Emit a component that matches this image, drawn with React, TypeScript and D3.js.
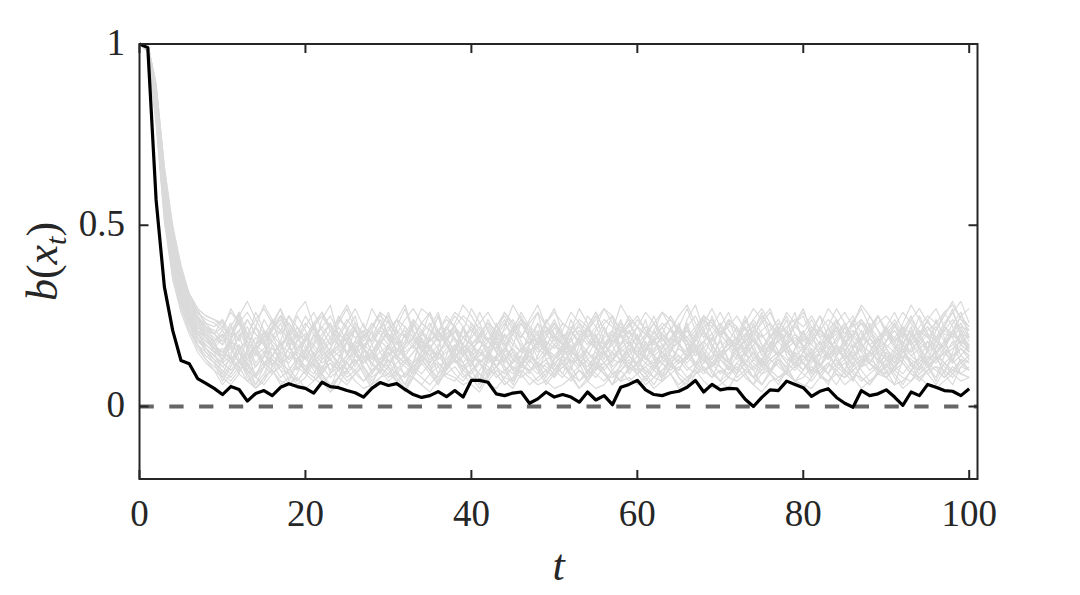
import * as d3 from "d3";

// t = 0 ... 100
const steps = d3.range(0, 101);

// highlighted trajectory b(x_t)
const mainSeries = [
  1.0, 0.99, 0.57, 0.33, 0.21, 0.127, 0.118, 0.077, 0.064, 0.05,
  0.033, 0.055, 0.047, 0.015, 0.036, 0.044, 0.03, 0.053, 0.063, 0.055,
  0.05, 0.037, 0.067, 0.055, 0.052, 0.044, 0.038, 0.026, 0.05, 0.066,
  0.058, 0.063, 0.047, 0.033, 0.025, 0.03, 0.041, 0.027, 0.044, 0.026,
  0.072, 0.072, 0.067, 0.035, 0.03, 0.037, 0.04, 0.009, 0.021, 0.04,
  0.026, 0.033, 0.026, 0.012, 0.04, 0.018, 0.03, 0.005, 0.053, 0.061,
  0.072, 0.046, 0.033, 0.03, 0.038, 0.042, 0.053, 0.072, 0.04, 0.061,
  0.046, 0.05, 0.049, 0.02, 0.0, 0.025, 0.046, 0.044, 0.07, 0.061,
  0.052, 0.028, 0.042, 0.049, 0.025, 0.009, -0.002, 0.044, 0.03, 0.035,
  0.046, 0.026, 0.003, 0.04, 0.03, 0.061, 0.053, 0.044, 0.042, 0.03,
  0.049,
];

// other trajectories, values x100
const g01 = [
  100, 99, 84, 57, 41, 31, 25, 21, 19, 17,
  14, 16, 12, 15, 19, 17, 13, 11, 14, 18,
  20, 16, 13, 15, 12, 10, 14, 17, 15, 19,
  22, 18, 14, 12, 15, 17, 13, 16, 19, 15,
  12, 14, 18, 21, 17, 13, 11, 15, 16, 14,
  17, 20, 16, 12, 14, 18, 15, 11, 13, 17,
  19, 16, 14, 12, 15, 18, 21, 17, 14, 13,
  16, 19, 15, 12, 10, 13, 17, 20, 16, 14,
  12, 15, 18, 14, 11, 13, 16, 19, 17, 15,
  13, 16, 20, 18, 14, 12, 15, 17, 21, 18,
  16,
];
const g02 = [
  100, 98, 80, 54, 38, 29, 23, 19, 16, 14,
  12, 10, 13, 9, 11, 14, 12, 8, 10, 13,
  15, 11, 9, 12, 10, 7, 9, 12, 14, 11,
  8, 10, 13, 11, 9, 12, 15, 12, 9, 7,
  10, 13, 11, 8, 10, 12, 14, 11, 9, 12,
  10, 8, 11, 14, 12, 9, 7, 10, 13, 11,
  9, 12, 10, 8, 11, 13, 10, 12, 15, 12,
  9, 11, 8, 10, 13, 11, 9, 7, 10, 12,
  14, 11, 9, 12, 10, 8, 11, 13, 12, 9,
  11, 14, 12, 9, 8, 10, 13, 11, 9, 12,
  10,
];
const g03 = [
  100, 100, 86, 60, 44, 34, 28, 24, 22, 21,
  19, 22, 18, 24, 20, 17, 21, 25, 19, 16,
  18, 22, 26, 21, 17, 19, 23, 20, 15, 18,
  21, 24, 19, 16, 20, 23, 18, 21, 25, 22,
  17, 19, 22, 18, 15, 20, 24, 21, 17, 19,
  23, 20, 16, 19, 22, 26, 21, 18, 20, 17,
  15, 19, 23, 20, 18, 22, 19, 16, 21, 24,
  20, 17, 19, 22, 18, 15, 19, 23, 21, 17,
  20, 24, 19, 16, 18, 22, 25, 20, 17, 19,
  22, 18, 21, 25, 20, 16, 19, 23, 26, 21,
  19,
];
const g04 = [
  100, 99, 82, 55, 40, 30, 24, 20, 17, 15,
  16, 13, 11, 14, 17, 12, 10, 13, 16, 14,
  11, 9, 13, 15, 12, 14, 17, 13, 10, 12,
  15, 13, 11, 9, 12, 16, 14, 11, 13, 17,
  14, 12, 15, 11, 9, 13, 16, 14, 12, 10,
  13, 16, 14, 11, 13, 15, 12, 9, 11, 14,
  17, 13, 12, 15, 11, 10, 14, 16, 13, 11,
  14, 12, 16, 18, 14, 11, 13, 15, 12, 10,
  13, 15, 11, 14, 17, 13, 10, 12, 15, 13,
  11, 14, 16, 12, 10, 13, 15, 12, 14, 16,
  13,
];
const g05 = [
  100, 99, 85, 59, 43, 33, 27, 23, 20, 18,
  21, 17, 15, 19, 22, 18, 14, 17, 20, 16,
  19, 23, 18, 15, 17, 21, 19, 16, 14, 18,
  20, 17, 22, 19, 15, 18, 21, 17, 14, 16,
  19, 22, 18, 16, 20, 17, 15, 19, 23, 20,
  17, 15, 18, 21, 19, 16, 14, 18, 20, 23,
  19, 16, 18, 15, 17, 21, 18, 14, 16, 19,
  22, 19, 16, 18, 21, 17, 15, 18, 20, 17,
  16, 19, 22, 18, 15, 17, 20, 23, 19, 16,
  18, 21, 17, 15, 19, 22, 18, 16, 20, 18,
  17,
];
const g06 = [
  100, 98, 79, 52, 37, 28, 21, 17, 14, 12,
  10, 8, 11, 7, 9, 12, 10, 6, 8, 11,
  9, 7, 10, 12, 8, 6, 9, 11, 8, 10,
  7, 9, 12, 10, 8, 6, 9, 11, 13, 10,
  8, 7, 10, 9, 6, 8, 11, 10, 7, 9,
  12, 9, 7, 10, 8, 11, 9, 6, 8, 10,
  12, 10, 8, 7, 9, 11, 8, 10, 13, 10,
  7, 9, 11, 8, 6, 9, 10, 12, 9, 7,
  8, 11, 9, 7, 10, 12, 9, 8, 6, 9,
  11, 10, 8, 7, 9, 12, 10, 8, 11, 9,
  8,
];
const g07 = [
  100, 99, 83, 56, 40, 31, 26, 20, 18, 16,
  13, 18, 24, 17, 12, 15, 11, 16, 21, 14,
  10, 13, 19, 15, 11, 14, 22, 16, 12, 9,
  14, 18, 13, 10, 15, 20, 25, 17, 12, 14,
  11, 16, 13, 19, 14, 10, 12, 17, 21, 15,
  12, 9, 14, 18, 13, 11, 16, 20, 14, 12,
  10, 15, 19, 13, 11, 17, 23, 16, 12, 14,
  18, 13, 10, 14, 17, 12, 15, 21, 14, 11,
  13, 16, 12, 9, 14, 19, 24, 16, 13, 11,
  15, 12, 17, 22, 15, 11, 14, 18, 13, 16,
  14,
];
const g08 = [
  100, 100, 85, 58, 42, 32, 26, 22, 19, 17,
  15, 18, 16, 13, 17, 20, 18, 15, 13, 16,
  19, 17, 14, 16, 20, 18, 15, 12, 15, 18,
  16, 14, 17, 19, 16, 13, 15, 18, 21, 17,
  14, 16, 19, 17, 14, 12, 16, 18, 15, 17,
  20, 17, 15, 13, 16, 19, 17, 14, 16, 18,
  15, 13, 16, 19, 21, 17, 14, 16, 18, 15,
  13, 16, 18, 15, 17, 20, 16, 14, 17, 19,
  17, 14, 16, 13, 15, 18, 20, 17, 15, 13,
  16, 19, 17, 14, 16, 18, 15, 17, 20, 17,
  15,
];
const g09 = [
  100, 100, 87, 61, 46, 36, 30, 26, 23, 22,
  24, 20, 23, 26, 22, 19, 21, 25, 23, 20,
  18, 22, 25, 21, 19, 23, 27, 22, 20, 17,
  21, 24, 22, 19, 23, 26, 21, 18, 22, 25,
  23, 20, 18, 22, 25, 21, 19, 23, 26, 22,
  19, 23, 21, 18, 21, 24, 27, 23, 20, 22,
  25, 21, 19, 22, 24, 20, 18, 21, 25, 23,
  20, 24, 22, 19, 21, 25, 22, 18, 20, 23,
  26, 22, 19, 21, 24, 20, 23, 27, 22, 19,
  21, 24, 20, 18, 22, 25, 23, 26, 28, 24,
  21,
];
const g10 = [
  100, 99, 81, 55, 39, 29, 23, 18, 16, 14,
  11, 13, 15, 12, 9, 11, 14, 12, 10, 13,
  16, 13, 11, 8, 10, 13, 15, 12, 14, 11,
  9, 12, 14, 11, 13, 10, 8, 11, 14, 12,
  15, 12, 10, 13, 11, 9, 12, 14, 11, 13,
  10, 12, 15, 13, 10, 8, 11, 13, 12, 14,
  11, 9, 12, 14, 11, 13, 16, 12, 10, 11,
  13, 11, 9, 12, 15, 12, 10, 13, 11, 14,
  12, 10, 13, 15, 11, 9, 12, 14, 12, 10,
  13, 11, 14, 12, 9, 11, 13, 15, 12, 14,
  12,
];
const g11 = [
  100, 99, 86, 59, 44, 34, 28, 24, 21, 19,
  17, 20, 23, 19, 16, 18, 21, 24, 20, 17,
  15, 18, 22, 19, 17, 20, 16, 19, 23, 20,
  17, 19, 21, 18, 16, 14, 17, 20, 22, 19,
  21, 18, 16, 19, 23, 20, 17, 15, 18, 21,
  19, 17, 20, 22, 18, 16, 19, 21, 17, 19,
  22, 20, 17, 19, 16, 18, 21, 19, 22, 24,
  20, 17, 19, 16, 18, 21, 23, 19, 17, 20,
  18, 21, 17, 19, 22, 18, 16, 19, 21, 18,
  20, 17, 15, 18, 21, 19, 22, 18, 20, 23,
  19,
];
const g12 = [
  100, 98, 81, 54, 39, 30, 24, 20, 17, 15,
  13, 15, 17, 14, 16, 12, 14, 17, 15, 13,
  11, 14, 16, 13, 15, 18, 14, 12, 15, 13,
  16, 14, 12, 15, 17, 14, 11, 13, 16, 14,
  17, 15, 13, 11, 14, 16, 13, 15, 18, 15,
  12, 14, 16, 13, 11, 14, 17, 15, 13, 16,
  14, 12, 15, 17, 14, 12, 13, 16, 14, 12,
  15, 17, 14, 12, 15, 13, 16, 18, 15, 13,
  14, 12, 15, 17, 14, 16, 13, 11, 14, 16,
  13, 15, 17, 14, 12, 15, 13, 16, 14, 17,
  15,
];
const g13 = [
  100, 98, 78, 51, 35, 26, 20, 15, 12, 10,
  8, 6, 9, 7, 5, 8, 10, 7, 6, 8,
  5, 7, 9, 6, 8, 10, 7, 5, 6, 8,
  9, 7, 5, 8, 6, 4, 7, 9, 8, 6,
  7, 9, 6, 5, 8, 7, 10, 8, 6, 7,
  5, 6, 8, 10, 7, 5, 6, 9, 7, 8,
  6, 8, 5, 7, 9, 6, 8, 10, 7, 5,
  6, 8, 7, 9, 6, 4, 7, 8, 10, 7,
  6, 5, 8, 7, 9, 6, 8, 5, 7, 9,
  8, 6, 7, 10, 8, 6, 5, 7, 9, 7,
  8,
];
const g14 = [
  100, 100, 87, 61, 45, 35, 29, 25, 22, 20,
  22, 19, 21, 24, 20, 18, 22, 25, 21, 19,
  23, 20, 17, 21, 24, 22, 19, 21, 18, 22,
  25, 21, 19, 23, 20, 18, 21, 24, 22, 19,
  17, 20, 23, 21, 18, 22, 25, 20, 18, 21,
  23, 19, 22, 20, 17, 21, 24, 22, 19, 21,
  18, 22, 20, 23, 21, 19, 17, 20, 24, 22,
  19, 23, 21, 18, 20, 23, 26, 21, 19, 22,
  20, 18, 21, 24, 22, 19, 21, 18, 22, 25,
  21, 19, 22, 20, 18, 21, 23, 20, 19, 22,
  21,
];
const g15 = [
  100, 99, 83, 57, 41, 32, 26, 21, 19, 16,
  13, 17, 21, 16, 11, 14, 19, 23, 17, 12,
  15, 20, 14, 10, 13, 18, 22, 16, 13, 17,
  12, 15, 20, 17, 13, 10, 14, 19, 22, 16,
  12, 16, 21, 17, 13, 16, 12, 9, 14, 19,
  23, 18, 14, 11, 16, 20, 15, 12, 17, 21,
  16, 13, 18, 22, 17, 12, 14, 19, 15, 11,
  14, 18, 22, 17, 13, 16, 20, 15, 12, 16,
  19, 14, 11, 15, 19, 23, 18, 13, 15, 19,
  16, 12, 17, 21, 16, 13, 18, 22, 27, 19,
  15,
];
const g16 = [
  100, 99, 82, 56, 40, 30, 24, 19, 17, 15,
  14, 12, 15, 13, 11, 14, 16, 13, 12, 15,
  13, 11, 14, 16, 14, 12, 10, 13, 15, 12,
  14, 16, 13, 11, 14, 12, 15, 17, 13, 11,
  13, 15, 12, 14, 16, 13, 11, 14, 12, 15,
  17, 14, 12, 13, 15, 12, 10, 13, 16, 14,
  12, 14, 11, 13, 16, 14, 12, 15, 13, 11,
  14, 16, 13, 15, 12, 10, 13, 15, 13, 12,
  15, 13, 11, 14, 16, 13, 15, 12, 14, 17,
  14, 12, 15, 13, 11, 14, 12, 15, 13, 16,
  14,
];
const g17 = [
  100, 100, 84, 58, 43, 33, 27, 22, 20, 18,
  20, 16, 19, 22, 17, 15, 18, 21, 19, 16,
  14, 17, 20, 23, 18, 15, 17, 20, 18, 21,
  19, 16, 14, 17, 21, 18, 20, 17, 15, 19,
  22, 18, 16, 19, 17, 20, 23, 19, 16, 18,
  16, 19, 21, 17, 20, 18, 15, 17, 21, 19,
  17, 20, 18, 16, 19, 22, 18, 15, 18, 20,
  23, 19, 17, 20, 18, 16, 19, 22, 20, 17,
  15, 18, 21, 18, 20, 23, 19, 17, 15, 18,
  21, 18, 20, 17, 19, 16, 18, 21, 19, 22,
  18,
];
const g18 = [
  100, 98, 80, 53, 37, 28, 22, 17, 15, 13,
  11, 9, 12, 10, 8, 11, 13, 10, 9, 12,
  10, 8, 11, 13, 10, 12, 9, 7, 10, 12,
  11, 9, 8, 11, 13, 10, 12, 9, 11, 8,
  10, 12, 9, 11, 13, 10, 8, 10, 12, 11,
  9, 11, 13, 10, 8, 11, 12, 9, 10, 12,
  10, 8, 11, 9, 12, 14, 11, 9, 10, 12,
  11, 9, 12, 10, 8, 10, 13, 11, 9, 11,
  12, 10, 9, 11, 13, 10, 8, 11, 12, 10,
  9, 11, 13, 10, 12, 9, 11, 10, 8, 11,
  10,
];
const g19 = [
  100, 99, 84, 58, 42, 32, 26, 22, 19, 17,
  15, 19, 25, 18, 14, 16, 20, 17, 13, 15,
  18, 22, 17, 14, 16, 19, 15, 13, 17, 21,
  26, 19, 15, 17, 14, 16, 19, 22, 18, 15,
  17, 14, 16, 20, 24, 18, 15, 17, 19, 16,
  14, 17, 21, 18, 15, 13, 16, 19, 23, 18,
  15, 17, 14, 16, 19, 17, 15, 18, 21, 17,
  14, 16, 19, 25, 19, 15, 17, 14, 16, 18,
  20, 17, 15, 18, 22, 17, 14, 16, 19, 25,
  20, 16, 18, 15, 17, 20, 18, 15, 17, 20,
  17,
];
const g20 = [
  100, 99, 81, 55, 39, 29, 23, 19, 16, 14,
  12, 14, 10, 13, 15, 11, 9, 12, 14, 13,
  10, 12, 15, 13, 11, 9, 12, 14, 12, 10,
  13, 11, 9, 12, 14, 16, 12, 10, 13, 11,
  9, 12, 14, 11, 13, 15, 12, 10, 11, 13,
  14, 12, 9, 11, 13, 10, 12, 15, 13, 11,
  9, 11, 13, 12, 10, 12, 14, 11, 9, 12,
  14, 12, 10, 13, 11, 9, 12, 14, 16, 12,
  10, 13, 11, 9, 12, 14, 11, 13, 10, 12,
  14, 11, 9, 12, 13, 11, 14, 12, 10, 13,
  12,
];
const g21 = [
  100, 100, 85, 60, 44, 34, 28, 24, 21, 20,
  18, 21, 24, 20, 17, 19, 22, 20, 23, 19,
  16, 19, 22, 25, 20, 18, 21, 17, 19, 22,
  20, 18, 16, 19, 23, 21, 18, 20, 22, 19,
  17, 20, 23, 19, 21, 24, 20, 17, 19, 22,
  20, 17, 19, 23, 21, 18, 16, 19, 22, 20,
  24, 21, 18, 20, 17, 19, 22, 25, 20, 18,
  21, 19, 17, 20, 22, 19, 21, 24, 20, 17,
  19, 22, 20, 18, 21, 17, 20, 23, 21, 18,
  20, 23, 19, 17, 20, 22, 19, 21, 24, 20,
  19,
];
const g22 = [
  100, 99, 83, 57, 41, 31, 25, 21, 18, 16,
  15, 13, 16, 18, 15, 12, 14, 17, 19, 15,
  13, 15, 12, 14, 17, 15, 18, 16, 13, 15,
  17, 14, 12, 15, 18, 16, 13, 15, 17, 14,
  16, 18, 15, 13, 16, 14, 12, 15, 18, 16,
  13, 15, 17, 14, 16, 19, 15, 13, 15, 17,
  14, 16, 18, 15, 13, 16, 14, 17, 15, 12,
  15, 17, 14, 16, 19, 16, 13, 15, 17, 14,
  16, 13, 15, 18, 16, 14, 17, 15, 12, 15,
  17, 15, 13, 16, 18, 15, 17, 14, 16, 18,
  16,
];
const g23 = [
  100, 100, 88, 63, 47, 37, 31, 27, 25, 24,
  22, 26, 23, 20, 24, 27, 23, 21, 25, 22,
  19, 23, 26, 22, 20, 24, 21, 18, 22, 25,
  23, 20, 24, 27, 23, 21, 19, 22, 26, 24,
  21, 23, 26, 22, 19, 21, 24, 22, 20, 23,
  26, 23, 21, 24, 22, 19, 23, 25, 21, 24,
  22, 20, 23, 26, 24, 21, 19, 22, 25, 23,
  20, 22, 25, 21, 24, 27, 23, 20, 22, 24,
  22, 25, 21, 19, 23, 26, 22, 24, 21, 23,
  25, 22, 20, 24, 27, 23, 21, 25, 29, 24,
  22,
];
const g24 = [
  100, 98, 79, 52, 36, 27, 21, 16, 13, 11,
  9, 7, 10, 12, 8, 6, 9, 11, 9, 7,
  10, 8, 6, 9, 11, 8, 10, 7, 9, 12,
  10, 7, 9, 8, 6, 9, 11, 8, 7, 10,
  12, 9, 7, 10, 8, 11, 9, 6, 8, 10,
  8, 11, 9, 7, 10, 12, 9, 8, 10, 7,
  9, 11, 8, 10, 12, 9, 7, 9, 11, 8,
  10, 8, 7, 9, 11, 13, 10, 8, 9, 11,
  9, 7, 10, 12, 9, 8, 10, 7, 9, 11,
  8, 10, 12, 9, 7, 10, 11, 8, 10, 9,
  11,
];

// trajectories with wider swings
const h01 = [
  100, 100, 89, 66, 50, 39, 31, 27, 22, 18,
  12, 19, 26, 15, 8, 14, 22, 27, 18, 10,
  15, 23, 17, 9, 13, 21, 25, 16, 11, 19,
  24, 14, 8, 12, 20, 26, 19, 11, 16, 22,
  13, 7, 15, 23, 18, 10, 14, 21, 26, 17,
  11, 16, 24, 19, 9, 13, 20, 25, 15, 10,
  18, 24, 14, 8, 15, 22, 18, 11, 17, 25,
  19, 12, 9, 16, 23, 17, 10, 14, 21, 26,
  16, 9, 13, 20, 24, 15, 11, 18, 23, 14,
  9, 15, 22, 17, 10, 16, 24, 19, 12, 20,
  15,
];
const h02 = [
  100, 99, 86, 62, 46, 36, 29, 24, 19, 15,
  9, 14, 20, 12, 6, 11, 17, 13, 7, 12,
  19, 14, 8, 5, 11, 18, 22, 14, 9, 13,
  17, 10, 6, 12, 19, 15, 9, 14, 21, 16,
  10, 6, 13, 18, 11, 7, 12, 17, 20, 13,
  8, 14, 19, 12, 7, 10, 16, 21, 15, 9,
  12, 18, 13, 7, 11, 17, 22, 16, 10, 8,
  13, 19, 15, 9, 6, 12, 18, 14, 10, 16,
  21, 15, 8, 11, 17, 13, 7, 12, 19, 15,
  10, 6, 13, 20, 16, 11, 8, 14, 18, 12,
  14,
];
const h03 = [
  100, 100, 88, 65, 48, 37, 30, 26, 24, 23,
  21, 27, 23, 16, 22, 28, 24, 17, 20, 26,
  29, 22, 16, 19, 25, 21, 15, 20, 27, 23,
  18, 24, 28, 21, 16, 22, 26, 19, 15, 21,
  27, 23, 18, 15, 22, 28, 24, 19, 16, 23,
  27, 20, 15, 19, 25, 22, 17, 21, 28, 24,
  18, 15, 21, 26, 22, 17, 24, 28, 21, 16,
  22, 26, 20, 15, 19, 24, 27, 21, 17, 23,
  25, 19, 16, 22, 27, 23, 18, 15, 21, 25,
  21, 17, 23, 28, 24, 19, 16, 22, 26, 29,
  23,
];
const h04 = [
  100, 99, 84, 60, 44, 34, 27, 21, 16, 13,
  8, 12, 17, 10, 6, 9, 14, 18, 11, 7,
  10, 15, 9, 5, 8, 13, 16, 10, 6, 11,
  15, 9, 6, 10, 14, 11, 7, 12, 17, 12,
  8, 5, 9, 14, 10, 6, 11, 15, 12, 8,
  13, 17, 11, 7, 9, 14, 10, 6, 12, 16,
  11, 7, 10, 15, 12, 8, 6, 11, 14, 9,
  7, 12, 16, 11, 8, 13, 9, 6, 10, 15,
  12, 8, 11, 16, 13, 9, 7, 12, 15, 10,
  8, 11, 16, 12, 7, 10, 14, 9, 6, 11,
  13,
];
const h05 = [
  100, 100, 88, 65, 49, 38, 31, 26, 23, 20,
  24, 17, 12, 19, 26, 21, 14, 18, 25, 20,
  13, 17, 24, 28, 19, 14, 18, 23, 17, 12,
  16, 22, 27, 20, 15, 19, 25, 18, 13, 17,
  23, 19, 14, 20, 26, 22, 16, 12, 18, 24,
  20, 15, 21, 27, 23, 17, 13, 19, 24, 18,
  14, 20, 25, 19, 15, 22, 27, 21, 16, 13,
  19, 24, 18, 14, 21, 26, 20, 15, 18, 23,
  27, 20, 14, 17, 22, 18, 13, 19, 25, 21,
  16, 13, 19, 24, 20, 15, 21, 26, 22, 17,
  20,
];
const h06 = [
  100, 99, 87, 63, 47, 37, 30, 25, 21, 17,
  20, 13, 9, 16, 22, 17, 11, 15, 21, 14,
  9, 13, 19, 23, 16, 10, 14, 20, 15, 11,
  17, 21, 14, 9, 13, 19, 16, 10, 15, 22,
  18, 12, 8, 14, 20, 15, 11, 17, 23, 16,
  10, 14, 19, 13, 9, 16, 22, 17, 12, 15,
  20, 14, 10, 13, 18, 23, 16, 11, 14, 19,
  15, 10, 17, 22, 15, 11, 14, 19, 24, 17,
  12, 9, 15, 20, 14, 10, 16, 21, 17, 12,
  18, 23, 16, 11, 13, 18, 14, 9, 15, 21,
  16,
];
const h07 = [
  100, 100, 89, 66, 49, 38, 31, 27, 25, 24,
  23, 19, 25, 29, 24, 20, 23, 27, 22, 18,
  22, 26, 21, 17, 24, 28, 23, 19, 22, 26,
  24, 19, 17, 22, 27, 25, 20, 18, 23, 28,
  25, 21, 18, 22, 26, 23, 19, 24, 28, 22,
  18, 21, 26, 23, 19, 22, 27, 25, 20, 17,
  22, 26, 23, 18, 21, 25, 28, 23, 19, 22,
  26, 21, 18, 23, 27, 24, 19, 21, 26, 23,
  19, 17, 22, 27, 24, 20, 23, 28, 25, 21,
  18, 22, 26, 23, 19, 24, 27, 22, 20, 25,
  27,
];
const h08 = [
  100, 98, 83, 58, 42, 32, 25, 19, 15, 12,
  7, 11, 15, 9, 5, 8, 13, 10, 6, 9,
  14, 10, 7, 4, 8, 12, 15, 11, 7, 10,
  13, 8, 5, 9, 13, 10, 6, 11, 15, 12,
  7, 10, 14, 9, 6, 8, 12, 16, 11, 7,
  10, 13, 9, 5, 8, 12, 15, 10, 7, 11,
  14, 9, 6, 10, 13, 8, 5, 9, 12, 16,
  11, 8, 12, 15, 10, 6, 9, 13, 11, 7,
  10, 14, 9, 6, 11, 15, 12, 8, 6, 10,
  13, 9, 6, 10, 14, 11, 7, 12, 9, 13,
  10,
];
const h09 = [
  100, 100, 88, 64, 48, 37, 30, 25, 20, 16,
  19, 23, 15, 11, 17, 24, 20, 14, 18, 25,
  21, 14, 10, 16, 22, 18, 12, 15, 21, 26,
  19, 13, 17, 23, 18, 12, 16, 22, 19, 14,
  20, 26, 21, 15, 12, 17, 23, 19, 13, 16,
  22, 17, 12, 15, 21, 25, 18, 13, 17, 23,
  19, 14, 11, 16, 22, 18, 13, 19, 25, 20,
  15, 12, 18, 24, 19, 14, 17, 22, 16, 11,
  15, 21, 25, 19, 14, 17, 23, 18, 12, 16,
  22, 17, 13, 19, 25, 20, 15, 18, 23, 26,
  19,
];
const h10 = [
  100, 99, 85, 61, 45, 35, 28, 23, 19, 16,
  14, 19, 13, 10, 15, 21, 17, 12, 16, 22,
  17, 12, 9, 14, 19, 15, 11, 16, 21, 15,
  11, 15, 20, 24, 16, 11, 14, 19, 15, 10,
  14, 20, 16, 11, 15, 22, 18, 13, 10, 15,
  19, 14, 10, 17, 22, 16, 12, 15, 20, 14,
  11, 16, 21, 17, 12, 10, 15, 20, 24, 17,
  13, 10, 14, 19, 16, 11, 15, 21, 18, 13,
  10, 14, 18, 13, 17, 22, 16, 11, 15, 19,
  14, 10, 15, 20, 17, 12, 16, 22, 19, 14,
  17,
];
const h11 = [
  100, 100, 87, 63, 47, 36, 29, 25, 22, 20,
  17, 22, 26, 20, 15, 19, 24, 21, 16, 20,
  25, 21, 15, 18, 23, 27, 21, 16, 19, 24,
  20, 15, 18, 24, 21, 16, 20, 25, 22, 17,
  15, 19, 24, 20, 16, 21, 26, 22, 17, 20,
  24, 19, 15, 18, 22, 26, 21, 17, 20, 25,
  22, 17, 15, 20, 25, 21, 16, 18, 23, 27,
  22, 18, 15, 19, 24, 20, 16, 21, 25, 20,
  16, 20, 25, 22, 17, 15, 19, 24, 20, 17,
  22, 26, 21, 17, 20, 24, 19, 16, 21, 25,
  22,
];
const h12 = [
  100, 98, 82, 57, 40, 30, 23, 17, 13, 10,
  6, 9, 13, 8, 5, 7, 11, 14, 9, 6,
  8, 12, 7, 4, 6, 10, 13, 9, 5, 8,
  11, 7, 4, 8, 12, 9, 6, 10, 13, 9,
  6, 4, 8, 11, 7, 5, 9, 13, 10, 6,
  9, 12, 8, 5, 7, 11, 9, 6, 10, 13,
  9, 6, 8, 12, 9, 5, 7, 11, 14, 10,
  7, 5, 9, 12, 8, 6, 10, 13, 9, 7,
  5, 8, 12, 9, 6, 10, 14, 10, 7, 9,
  12, 8, 5, 7, 11, 9, 6, 10, 13, 9,
  8,
];

const otherSeries = [
  g01, g02, g03, g04, g05, g06, g07, g08, g09, g10, g11, g12,
  g13, g14, g15, g16, g17, g18, g19, g20, g21, g22, g23, g24,
  h01, h02, h03, h04, h05, h06, h07, h08, h09, h10, h11, h12,
].map((s) => s.map((v) => v / 100));

const xTicks = [0, 20, 40, 60, 80, 100];
const yTicks = [0, 0.5, 1];

export default function App() {
  const width = 1080;
  const height = 595;
  const left = 139.5;
  const right = 977.5;
  const top = 44;
  const bottom = 479;

  const x = d3.scaleLinear().domain([0, 101]).range([left, right]);
  const y = d3.scaleLinear().domain([-0.2, 1]).range([bottom, top]);

  const line = d3
    .line<number>()
    .x((_, i) => x(steps[i]))
    .y((d) => y(d));

  const axisColor = "#262626";
  const tickLen = 9;
  const font = "'Liberation Serif', 'Times New Roman', serif";

  return (
    <svg
      width={width}
      height={height}
      viewBox={`0 0 ${width} ${height}`}
      style={{ position: "absolute", left: 0, top: 0, background: "#fff" }}
    >
      <defs>
        <clipPath id="plot-area">
          <rect x={left} y={top - 2} width={right - left} height={bottom - top + 2} />
        </clipPath>
      </defs>

      <g clipPath="url(#plot-area)">
        {otherSeries.map((s, i) => (
          <path
            key={`g-${i}`}
            d={line(s) ?? ""}
            fill="none"
            stroke="#dadada"
            strokeWidth={1.2}
            strokeLinejoin="round"
          />
        ))}

        <line
          x1={left}
          x2={right}
          y1={y(0)}
          y2={y(0)}
          stroke="#666666"
          strokeWidth={4.2}
          strokeDasharray="14.3 15.5"
        />

        <path
          d={line(mainSeries) ?? ""}
          fill="none"
          stroke="#000"
          strokeWidth={3.2}
          strokeLinejoin="round"
        />
      </g>

      {/* axes box */}
      <rect
        x={left}
        y={top}
        width={right - left}
        height={bottom - top}
        fill="none"
        stroke={axisColor}
        strokeWidth={2}
      />

      {xTicks.map((t) => (
        <g key={`xt-${t}`}>
          <line x1={x(t)} x2={x(t)} y1={bottom} y2={bottom - tickLen} stroke={axisColor} strokeWidth={2} />
          <line x1={x(t)} x2={x(t)} y1={top} y2={top + tickLen} stroke={axisColor} strokeWidth={2} />
          <text
            x={x(t)}
            y={526}
            textAnchor="middle"
            fontFamily={font}
            fontSize={37}
            fill={axisColor}
          >
            {t}
          </text>
        </g>
      ))}

      {yTicks.map((t) => (
        <g key={`yt-${t}`}>
          <line x1={left} x2={left + tickLen} y1={y(t)} y2={y(t)} stroke={axisColor} strokeWidth={2} />
          <line x1={right} x2={right - tickLen} y1={y(t)} y2={y(t)} stroke={axisColor} strokeWidth={2} />
          <text
            x={125}
            y={y(t) - 2}
            textAnchor="end"
            dominantBaseline="central"
            fontFamily={font}
            fontSize={37}
            fill={axisColor}
          >
            {t}
          </text>
        </g>
      ))}

      <text
        x={(left + right) / 2}
        y={580}
        textAnchor="middle"
        fontFamily={font}
        fontStyle="italic"
        fontSize={44}
        fill={axisColor}
      >
        t
      </text>

      <text
        transform={`translate(57,${(top + bottom) / 2}) rotate(-90)`}
        textAnchor="middle"
        fontFamily={font}
        fontSize={44}
        fill={axisColor}
      >
        <tspan fontStyle="italic">b</tspan>
        <tspan>(</tspan>
        <tspan fontStyle="italic">x</tspan>
        <tspan fontStyle="italic" fontSize={30} dy={9}>t</tspan>
        <tspan dy={-9}>)</tspan>
      </text>
    </svg>
  );
}
